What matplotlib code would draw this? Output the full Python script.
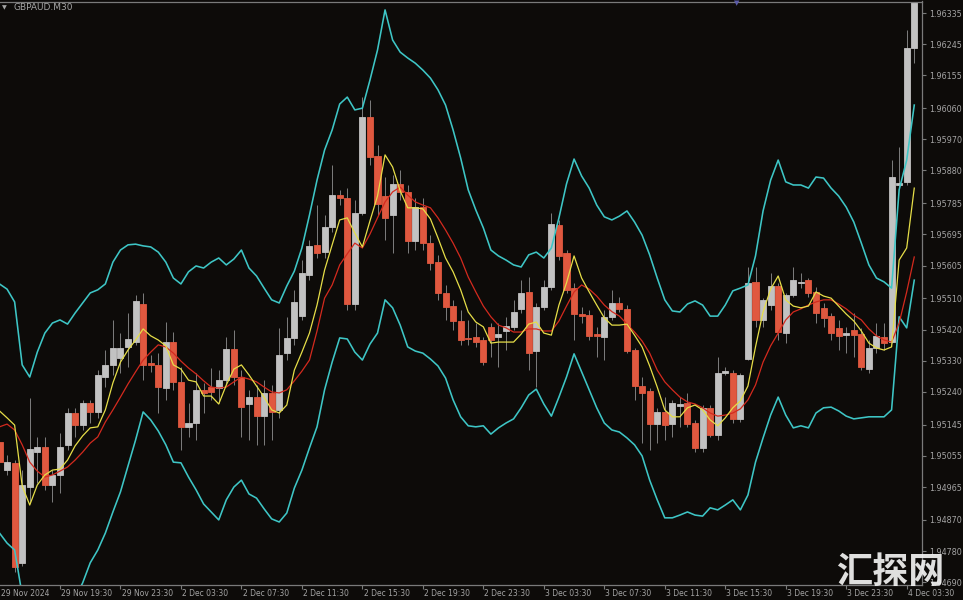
import matplotlib
matplotlib.use("Agg")
import matplotlib.pyplot as plt
import matplotlib.transforms as mtransforms
import numpy as np

# ---------------- data (GBPAUD M30) ----------------
symbol = "GBPAUD.M30"

open_ = [1.95095, 1.95014, 1.95034, 1.94746, 1.94965, 1.95066, 1.95081, 1.94971, 1.95000, 1.95087,
         1.95179, 1.95144, 1.95208, 1.95182, 1.95283, 1.95318, 1.95338, 1.95370, 1.95384, 1.95494,
         1.95324, 1.95318, 1.95251, 1.95384, 1.95269, 1.95139, 1.95150, 1.95246, 1.95254, 1.95251,
         1.95274, 1.95364, 1.95283, 1.95205, 1.95225, 1.95170, 1.95237, 1.95188, 1.95352, 1.95396,
         1.95459, 1.95578, 1.95664, 1.95644, 1.95717, 1.95809, 1.95800, 1.95494, 1.95757, 1.96034,
         1.95922, 1.95806, 1.95751, 1.95841, 1.95818, 1.95676, 1.95774, 1.95670, 1.95615, 1.95526,
         1.95488, 1.95445, 1.95397, 1.95399, 1.95390, 1.95428, 1.95400, 1.95417, 1.95428, 1.95479,
         1.95530, 1.95359, 1.95485, 1.95542, 1.95722, 1.95641, 1.95539, 1.95464, 1.95462, 1.95406,
         1.95400, 1.95456, 1.95496, 1.95481, 1.95361, 1.95257, 1.95243, 1.95147, 1.95182, 1.95147,
         1.95199, 1.95207, 1.95149, 1.95077, 1.95193, 1.95115, 1.95296, 1.95296, 1.95162, 1.95334,
         1.95559, 1.95449, 1.95490, 1.95545, 1.95411, 1.95520, 1.95554, 1.95562, 1.95530, 1.95482,
         1.95459, 1.95424, 1.95404, 1.95419, 1.95407, 1.95305, 1.95366, 1.95400, 1.95384, 1.95838,
         1.95848, 1.96235]

high = [1.95115, 1.95058, 1.95043, 1.95014, 1.95222, 1.95110, 1.95110, 1.95014, 1.95121, 1.95194,
        1.95194, 1.95217, 1.95217, 1.95303, 1.95361, 1.95448, 1.95410, 1.95468, 1.95520, 1.95526,
        1.95347, 1.95352, 1.95442, 1.95413, 1.95312, 1.95208, 1.95295, 1.95266, 1.95309, 1.95303,
        1.95399, 1.95419, 1.95303, 1.95246, 1.95260, 1.95274, 1.95260, 1.95425, 1.95456, 1.95534,
        1.95621, 1.95679, 1.95780, 1.95751, 1.95896, 1.95823, 1.95829, 1.95795, 1.96092, 1.96084,
        1.95954, 1.95861, 1.95867, 1.95881, 1.95838, 1.95800, 1.95800, 1.95693, 1.95636, 1.95549,
        1.95506, 1.95477, 1.95448, 1.95439, 1.95399, 1.95439, 1.95439, 1.95456, 1.95506, 1.95563,
        1.95572, 1.95497, 1.95563, 1.95757, 1.95737, 1.95650, 1.95555, 1.95485, 1.95477, 1.95428,
        1.95477, 1.95534, 1.95514, 1.95491, 1.95367, 1.95283, 1.95251, 1.95194, 1.95225, 1.95217,
        1.95225, 1.95237, 1.95159, 1.95202, 1.95202, 1.95341, 1.95312, 1.95303, 1.95295, 1.95601,
        1.95601, 1.95511, 1.95584, 1.95555, 1.95526, 1.95601, 1.95584, 1.95569, 1.95543, 1.95497,
        1.95468, 1.95448, 1.95428, 1.95468, 1.95425, 1.95390, 1.95439, 1.95439, 1.95910, 1.95948,
        1.96286, 1.96387]

low = [1.95014, 1.95000, 1.94720, 1.94737, 1.94919, 1.94977, 1.94957, 1.94922, 1.94948, 1.95072,
       1.95110, 1.95130, 1.95150, 1.95165, 1.95254, 1.95289, 1.95295, 1.95312, 1.95376, 1.95274,
       1.95298, 1.95179, 1.95217, 1.95246, 1.95072, 1.95110, 1.95101, 1.95179, 1.95217, 1.95208,
       1.95260, 1.95260, 1.95110, 1.95101, 1.95087, 1.95087, 1.95101, 1.95165, 1.95332, 1.95376,
       1.95448, 1.95563, 1.95627, 1.95627, 1.95702, 1.95780, 1.95477, 1.95477, 1.95751, 1.95896,
       1.95751, 1.95679, 1.95641, 1.95795, 1.95641, 1.95650, 1.95650, 1.95592, 1.95506, 1.95448,
       1.95419, 1.95376, 1.95376, 1.95370, 1.95318, 1.95341, 1.95312, 1.95361, 1.95419, 1.95468,
       1.95303, 1.95254, 1.95477, 1.95534, 1.95621, 1.95526, 1.95390, 1.95439, 1.95390, 1.95341,
       1.95332, 1.95448, 1.95471, 1.95352, 1.95217, 1.95092, 1.95072, 1.95092, 1.95101, 1.95110,
       1.95139, 1.95139, 1.95066, 1.95066, 1.95110, 1.95101, 1.95289, 1.95150, 1.95153, 1.95332,
       1.95428, 1.95428, 1.95477, 1.95390, 1.95381, 1.95514, 1.95540, 1.95514, 1.95439, 1.95428,
       1.95390, 1.95361, 1.95352, 1.95341, 1.95303, 1.95295, 1.95352, 1.95361, 1.95381, 1.95832,
       1.95838, 1.96190]

close = [1.95037, 1.95037, 1.94734, 1.94971, 1.95075, 1.95081, 1.94971, 1.95000, 1.95081, 1.95179,
         1.95144, 1.95208, 1.95182, 1.95289, 1.95318, 1.95367, 1.95367, 1.95393, 1.95503, 1.95318,
         1.95318, 1.95254, 1.95384, 1.95269, 1.95139, 1.95150, 1.95246, 1.95237, 1.95240, 1.95274,
         1.95364, 1.95283, 1.95196, 1.95225, 1.95170, 1.95237, 1.95182, 1.95347, 1.95396, 1.95500,
         1.95584, 1.95662, 1.95641, 1.95717, 1.95809, 1.95800, 1.95494, 1.95757, 1.96034, 1.95919,
         1.95783, 1.95743, 1.95841, 1.95818, 1.95676, 1.95774, 1.95670, 1.95613, 1.95526, 1.95485,
         1.95445, 1.95390, 1.95393, 1.95384, 1.95326, 1.95390, 1.95407, 1.95430, 1.95472, 1.95527,
         1.95353, 1.95485, 1.95542, 1.95724, 1.95633, 1.95534, 1.95464, 1.95459, 1.95402, 1.95402,
         1.95456, 1.95496, 1.95481, 1.95359, 1.95257, 1.95238, 1.95147, 1.95183, 1.95144, 1.95208,
         1.95205, 1.95147, 1.95077, 1.95193, 1.95114, 1.95296, 1.95301, 1.95161, 1.95289, 1.95556,
         1.95449, 1.95505, 1.95546, 1.95412, 1.95520, 1.95562, 1.95559, 1.95527, 1.95468, 1.95454,
         1.95411, 1.95402, 1.95411, 1.95403, 1.95312, 1.95366, 1.95402, 1.95382, 1.95862, 1.95844,
         1.96235, 1.96381]

band_upper = [1.95552, 1.95537, 1.95500, 1.95318, 1.95283, 1.95355, 1.95410, 1.95439, 1.95448, 1.95436,
              1.95468, 1.95497, 1.95526, 1.95535, 1.95552, 1.95615, 1.95650, 1.95665, 1.95667, 1.95662,
              1.95659, 1.95644, 1.95615, 1.95569, 1.95552, 1.95587, 1.95604, 1.95598, 1.95615, 1.95627,
              1.95607, 1.95624, 1.95650, 1.95598, 1.95575, 1.95540, 1.95506, 1.95497, 1.95546, 1.95589,
              1.95656, 1.95751, 1.95852, 1.95939, 1.95997, 1.96072, 1.96092, 1.96055, 1.96060, 1.96141,
              1.96228, 1.96344, 1.96257, 1.96222, 1.96205, 1.96190, 1.96170, 1.96147, 1.96113, 1.96069,
              1.95997, 1.95916, 1.95824, 1.95766, 1.95714, 1.95650, 1.95633, 1.95621, 1.95607, 1.95601,
              1.95636, 1.95644, 1.95627, 1.95656, 1.95743, 1.95841, 1.95913, 1.95864, 1.95829, 1.95780,
              1.95746, 1.95737, 1.95748, 1.95763, 1.95731, 1.95693, 1.95636, 1.95569, 1.95506, 1.95474,
              1.95471, 1.95494, 1.95503, 1.95491, 1.95459, 1.95459, 1.95491, 1.95532, 1.95540, 1.95549,
              1.95633, 1.95763, 1.95852, 1.95910, 1.95847, 1.95838, 1.95838, 1.95829, 1.95861, 1.95858,
              1.95829, 1.95806, 1.95774, 1.95731, 1.95670, 1.95607, 1.95569, 1.95558, 1.95540, 1.95824,
              1.95910, 1.96069]

band_lower = [1.94832, 1.94803, 1.94783, 1.94653, 1.94595, 1.94552, 1.94537, 1.94552, 1.94581, 1.94610,
              1.94644, 1.94688, 1.94746, 1.94783, 1.94832, 1.94893, 1.94951, 1.95026, 1.95101, 1.95182,
              1.95159, 1.95127, 1.95087, 1.95037, 1.95035, 1.94994, 1.94957, 1.94916, 1.94893, 1.94870,
              1.94928, 1.94965, 1.94985, 1.94945, 1.94933, 1.94902, 1.94873, 1.94864, 1.94890, 1.94962,
              1.95014, 1.95078, 1.95139, 1.95246, 1.95326, 1.95396, 1.95393, 1.95355, 1.95332, 1.95378,
              1.95410, 1.95506, 1.95483, 1.95433, 1.95370, 1.95358, 1.95352, 1.95335, 1.95315, 1.95280,
              1.95217, 1.95168, 1.95142, 1.95139, 1.95142, 1.95118, 1.95136, 1.95150, 1.95162, 1.95194,
              1.95231, 1.95248, 1.95205, 1.95170, 1.95225, 1.95283, 1.95350, 1.95298, 1.95246, 1.95194,
              1.95150, 1.95130, 1.95124, 1.95107, 1.95087, 1.95055, 1.94985, 1.94928, 1.94876, 1.94876,
              1.94884, 1.94893, 1.94884, 1.94881, 1.94905, 1.94899, 1.94913, 1.94928, 1.94899, 1.94942,
              1.95037, 1.95107, 1.95173, 1.95225, 1.95173, 1.95136, 1.95142, 1.95136, 1.95179, 1.95194,
              1.95196, 1.95185, 1.95170, 1.95162, 1.95165, 1.95168, 1.95168, 1.95168, 1.95188, 1.95457,
              1.95425, 1.95563]

ma_fast = [1.95185, 1.95165, 1.95144, 1.94968, 1.94913, 1.94971, 1.95000, 1.95014, 1.95017, 1.95043,
           1.95084, 1.95113, 1.95136, 1.95139, 1.95188, 1.95266, 1.95326, 1.95361, 1.95390, 1.95422,
           1.95402, 1.95390, 1.95373, 1.95318, 1.95306, 1.95274, 1.95269, 1.95228, 1.95228, 1.95205,
           1.95260, 1.95306, 1.95318, 1.95289, 1.95257, 1.95225, 1.95188, 1.95179, 1.95202, 1.95303,
           1.95355, 1.95410, 1.95491, 1.95592, 1.95665, 1.95737, 1.95743, 1.95699, 1.95659, 1.95734,
           1.95806, 1.95925, 1.95890, 1.95821, 1.95772, 1.95772, 1.95769, 1.95740, 1.95685, 1.95627,
           1.95587, 1.95535, 1.95471, 1.95442, 1.95428, 1.95381, 1.95384, 1.95384, 1.95384, 1.95407,
           1.95436, 1.95442, 1.95410, 1.95404, 1.95491, 1.95555, 1.95633, 1.95569, 1.95529, 1.95491,
           1.95454, 1.95433, 1.95433, 1.95436, 1.95404, 1.95370, 1.95315, 1.95254, 1.95188, 1.95168,
           1.95168, 1.95194, 1.95202, 1.95188, 1.95159, 1.95142, 1.95165, 1.95194, 1.95214, 1.95257,
           1.95370, 1.95471, 1.95537, 1.95575, 1.95506, 1.95488, 1.95483, 1.95488, 1.95529, 1.95517,
           1.95511, 1.95488, 1.95465, 1.95445, 1.95416, 1.95381, 1.95367, 1.95361, 1.95370, 1.95621,
           1.95656, 1.95829]

ma_slow = [1.95139, 1.95147, 1.95130, 1.95087, 1.95037, 1.95011, 1.94994, 1.95000, 1.95011, 1.95023,
           1.95043, 1.95066, 1.95092, 1.95110, 1.95153, 1.95188, 1.95225, 1.95263, 1.95298, 1.95332,
           1.95355, 1.95376, 1.95370, 1.95352, 1.95329, 1.95309, 1.95292, 1.95272, 1.95254, 1.95251,
           1.95254, 1.95269, 1.95283, 1.95277, 1.95269, 1.95254, 1.95240, 1.95237, 1.95246, 1.95272,
           1.95300, 1.95332, 1.95416, 1.95511, 1.95549, 1.95607, 1.95639, 1.95670, 1.95656, 1.95696,
           1.95743, 1.95789, 1.95818, 1.95832, 1.95809, 1.95789, 1.95780, 1.95772, 1.95743, 1.95708,
           1.95670, 1.95627, 1.95572, 1.95529, 1.95488, 1.95457, 1.95433, 1.95425, 1.95413, 1.95413,
           1.95422, 1.95422, 1.95416, 1.95416, 1.95445, 1.95488, 1.95529, 1.95549, 1.95537, 1.95517,
           1.95491, 1.95472, 1.95459, 1.95436, 1.95413, 1.95387, 1.95352, 1.95303, 1.95269, 1.95246,
           1.95225, 1.95211, 1.95205, 1.95194, 1.95179, 1.95170, 1.95173, 1.95179, 1.95191, 1.95217,
           1.95260, 1.95326, 1.95373, 1.95410, 1.95448, 1.95471, 1.95480, 1.95491, 1.95500, 1.95506,
           1.95506, 1.95494, 1.95480, 1.95462, 1.95448, 1.95422, 1.95402, 1.95390, 1.95384, 1.95439,
           1.95529, 1.95630]

time_labels = ["29 Nov 2024", "29 Nov 19:30", "29 Nov 23:30", "2 Dec 03:30", "2 Dec 07:30",
               "2 Dec 11:30", "2 Dec 15:30", "2 Dec 19:30", "2 Dec 23:30", "3 Dec 03:30",
               "3 Dec 07:30", "3 Dec 11:30", "3 Dec 15:30", "3 Dec 19:30", "3 Dec 23:30",
               "4 Dec 03:30"]
time_label_bars = [0, 8, 16, 24, 32, 40, 48, 56, 64, 72, 80, 88, 96, 104, 112, 120]

price_labels = ["1.96335", "1.96245", "1.96155", "1.96060", "1.95970", "1.95880", "1.95785",
                "1.95695", "1.95605", "1.95510", "1.95420", "1.95330", "1.95240", "1.95145",
                "1.95055", "1.94965", "1.94870", "1.94780", "1.94690"]

# ---------------- styling ----------------
BG = "#0d0b09"
BULL = "#c2c2c2"
BEAR = "#e0583f"
WICK = "#7e7e7e"
CYAN = "#3ec6c6"
YELLOW = "#e6de48"
RED = "#d42a1e"
TXT = "#a4a4a4"
AXC = "#7a7a7a"

W, H = 963, 600
fig = plt.figure(figsize=(W / 100, H / 100), dpi=100, facecolor=BG)
ax_left, ax_right, ax_top, ax_bottom = 0, 922, 1.5, 585
ax = fig.add_axes([ax_left / W, 1 - ax_bottom / H, (ax_right - ax_left) / W, (ax_bottom - ax_top) / H])
ax.set_facecolor(BG)

o = np.array(open_); h = np.array(high); l = np.array(low); c = np.array(close)
x = np.arange(len(o))

# wicks
ax.vlines(x, l, h, color=WICK, lw=0.7, zorder=1)
# bodies
up = c >= o
bottoms = np.minimum(o, c)
heights = np.abs(c - o)
cols = np.where(up, BULL, BEAR)
ax.bar(x, heights, bottom=bottoms, width=0.8, color=cols, edgecolor=cols,
       linewidth=0.6, zorder=2)

# indicators
ax.plot(x, band_upper, color=CYAN, lw=1.15, zorder=3)
ax.plot(x, band_lower, color=CYAN, lw=1.15, zorder=3)
ax.plot(x, ma_slow, color=RED, lw=0.9, zorder=4)
ax.plot(x, ma_fast, color=YELLOW, lw=0.9, zorder=5)

# scales
px_per_bar = 7.56
ax.set_xlim(0.5 / px_per_bar, 922.5 / px_per_bar)
ax.set_ylim(1.946819, 1.963683)

ax.spines["left"].set_visible(False)
for s in ["right", "bottom", "top"]:
    ax.spines[s].set_color(AXC)
    ax.spines[s].set_linewidth(0.9)

ax.yaxis.tick_right()
ax.set_yticks([float(v) for v in price_labels])
ax.set_yticklabels(price_labels)
ax.tick_params(axis="y", colors=AXC, labelcolor=TXT, labelsize=5.8, length=3, width=0.8, pad=2)

ax.set_xticks([b for b in time_label_bars if b > 0])
ax.set_xticklabels([])
ax.tick_params(axis="x", colors=AXC, length=3, width=0.8)

trans = mtransforms.blended_transform_factory(ax.transData, ax.transAxes)
for b, lab in zip(time_label_bars, time_labels):
    ax.text(b + 0.15, -0.0075, lab, transform=trans, ha="left", va="top",
            fontsize=5.5, color=TXT, clip_on=False)

# header
fig.text(2 / W, 1 - 8 / H, "\u25BC", fontsize=4.5, color=TXT, va="center", ha="left")
fig.text(13 / W, 1 - 8 / H, symbol, fontsize=6.5, color=TXT, va="center", ha="left")
fig.text(737 / W, 1 - 3 / H, "\u25BC", fontsize=5, color="#5a5aa8", va="center", ha="center")

# watermark
fig.text(890 / W, 1 - 573 / H, "汇探网", fontsize=26, fontweight="bold", color="#f2f2f2",
         alpha=0.92, ha="center", va="center",
         family=["Noto Sans CJK SC", "DejaVu Sans"], zorder=10)

fig.savefig("out.png", dpi=100, facecolor=BG)
